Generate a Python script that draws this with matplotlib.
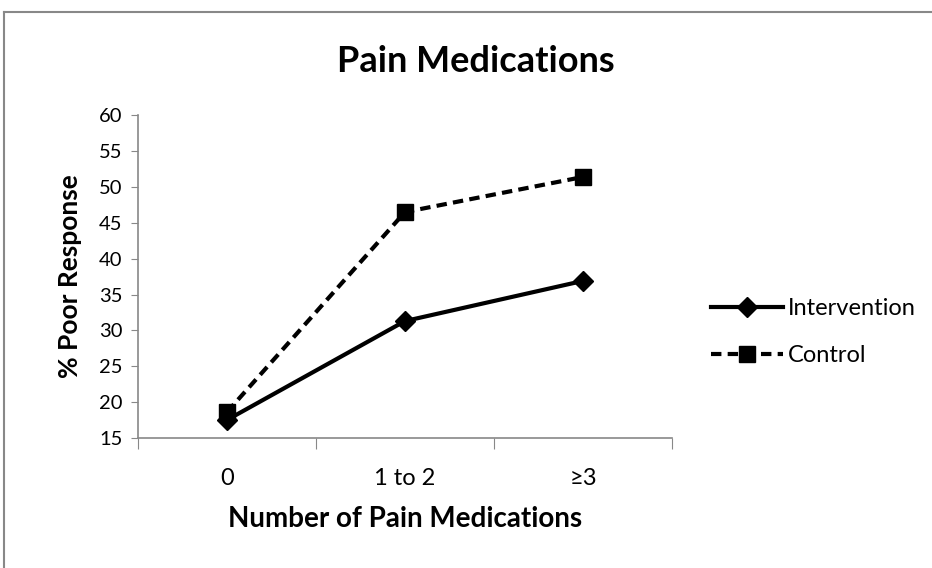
import matplotlib.pyplot as plt
from matplotlib.lines import Line2D

categories = ['0', '1 to 2', '\u22653']
intervention = [17.5, 31.3, 36.9]
control = [18.6, 46.5, 51.4]

plt.rcParams['font.family'] = ['Lato', 'DejaVu Sans']

fig = plt.figure(figsize=(9.32, 5.68), dpi=100)
ax = fig.add_axes([0.148, 0.229, 0.573, 0.568])

x = range(len(categories))
ax.plot(x, intervention, color='black', lw=3, marker='D', markersize=10, label='Intervention')
ax.plot(x, control, color='black', lw=3, ls=(0, (2.5, 1.5)), marker='s', markersize=11, label='Control')

ax.set_xlim(-0.5, 2.5)
ax.set_ylim(15, 60)
ax.set_yticks(range(15, 61, 5))
ax.tick_params(axis='y', labelsize=14.5, length=5, color='#888888', pad=6)

ax.set_xticks([-0.5, 0.5, 1.5, 2.5])
ax.set_xticklabels([])
ax.tick_params(axis='x', which='major', length=8, color='#888888')
ax.set_xticks(list(x), minor=True)
ax.set_xticklabels(categories, minor=True, fontsize=17)
ax.tick_params(axis='x', which='minor', length=0, pad=22)

for s in ['top', 'right']:
    ax.spines[s].set_visible(False)
for s in ['left', 'bottom']:
    ax.spines[s].set_color('#888888')
    ax.spines[s].set_linewidth(1.2)

ax.set_xlabel('Number of Pain Medications', fontsize=20, fontweight='bold', labelpad=12)
ax.set_ylabel('% Poor Response', fontsize=19, fontweight='bold', labelpad=12)
fig.text(476 / 932, 1 - 72 / 568, 'Pain Medications', ha='center', va='baseline',
         fontsize=26, fontweight='bold')

ax.legend(loc='center left', bbox_to_anchor=(1.073, 0.328), frameon=False, fontsize=17,
          handlelength=3.05, labelspacing=1.1, handletextpad=0.2,
          borderpad=0, borderaxespad=0)

fig.add_artist(Line2D([4 / 932, 1], [1 - 12 / 568, 1 - 12 / 568], color='#888888', lw=1.5,
                      transform=fig.transFigure))
fig.add_artist(Line2D([4 / 932, 4 / 932], [0, 1 - 12 / 568], color='#888888', lw=1.5,
                      transform=fig.transFigure))

fig.savefig('out.png', dpi=100)
